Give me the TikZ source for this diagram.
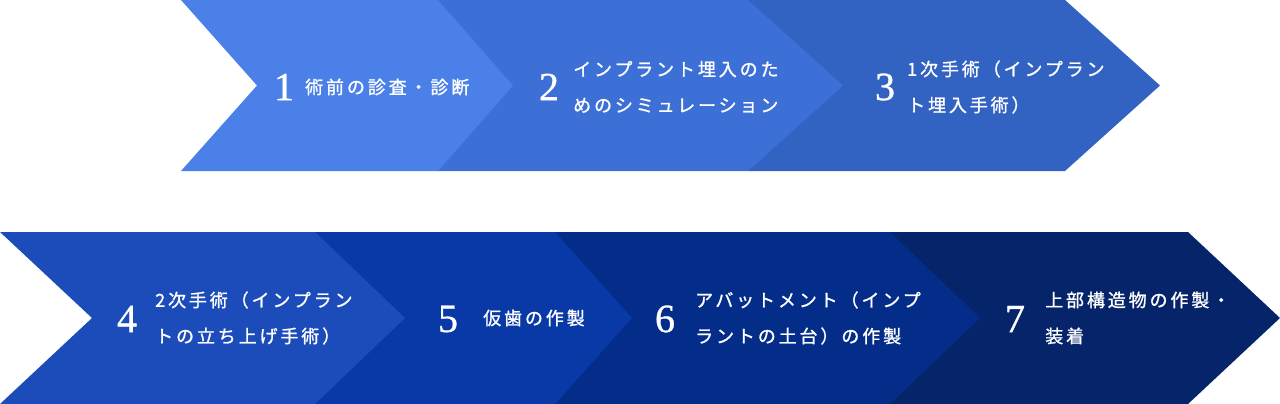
\documentclass[tikz,border=0pt]{standalone}
\usepackage{fontspec}
\setmainfont{Liberation Serif}
\newfontfamily\numfont[FakeBold=0.8]{Liberation Serif}
\newfontfamily\jp[LetterSpace=16,FakeBold=1.2]{Noto Sans CJK JP}
\definecolor{stepa}{HTML}{4A80E8}
\definecolor{stepb}{HTML}{3D70D6}
\definecolor{stepc}{HTML}{3263C3}
\definecolor{stepd}{HTML}{1C4CBA}
\definecolor{stepe}{HTML}{0839A7}
\definecolor{stepf}{HTML}{042D8A}
\definecolor{stepg}{HTML}{05246A}
\begin{document}
\begin{tikzpicture}[x=1pt,y=-1pt,
  num/.style={text=white,inner sep=0pt,font=\numfont\fontsize{40}{40}\selectfont},
  lbl/.style={text=white,inner sep=0pt,anchor=west,align=left,font=\jp\fontsize{18}{36}\selectfont}]
\useasboundingbox (0,0) rectangle (1280,404);
% top row
\fill[stepc] (748,0) -- (1065,0) -- (1160,85.5) -- (1065,171) -- (748,171) -- cycle;
\fill[stepb] (438,0) -- (748,0) -- (843,85.5) -- (748,171) -- (438,171) -- cycle;
\fill[stepa] (181,0) -- (438,0) -- (513,85.5) -- (438,171) -- (181,171) -- (257,85.5) -- cycle;
\node[num] (n1) at (284,87) {1};
\node[lbl] (t1) at (305,87) {術前の診査・診断};
\node[num] (n2) at (549,87) {2};
\node[lbl] (t2) at (573,87) {インプラント埋入のた\\めのシミュレーション};
\node[num] (n3) at (885,87) {3};
\node[lbl] (t3) at (907,87) {1次手術（インプラン\\ト埋入手術）};
% bottom row
\fill[stepg] (890,232) -- (1188,232) -- (1280,318) -- (1188,404) -- (890,404) -- cycle;
\fill[stepf] (555,232) -- (890,232) -- (980,318) -- (890,404) -- (555,404) -- cycle;
\fill[stepe] (315,232) -- (555,232) -- (632,318) -- (555,404) -- (315,404) -- cycle;
\fill[stepd] (0,232) -- (315,232) -- (405,318) -- (315,404) -- (0,404) -- (92,318) -- cycle;
\node[num] (n4) at (127,319) {4};
\node[lbl] (t4) at (155,318) {2次手術（インプラン\\トの立ち上げ手術）};
\node[num] (n5) at (448,319) {5};
\node[lbl] (t5) at (483,318) {仮歯の作製};
\node[num] (n6) at (665,319) {6};
\node[lbl] (t6) at (695,318) {アバットメント（インプ\\ラントの土台）の作製};
\node[num] (n7) at (1015,319) {7};
\node[lbl] (t7) at (1045,318) {上部構造物の作製・\\装着};
\end{tikzpicture}
\end{document}
